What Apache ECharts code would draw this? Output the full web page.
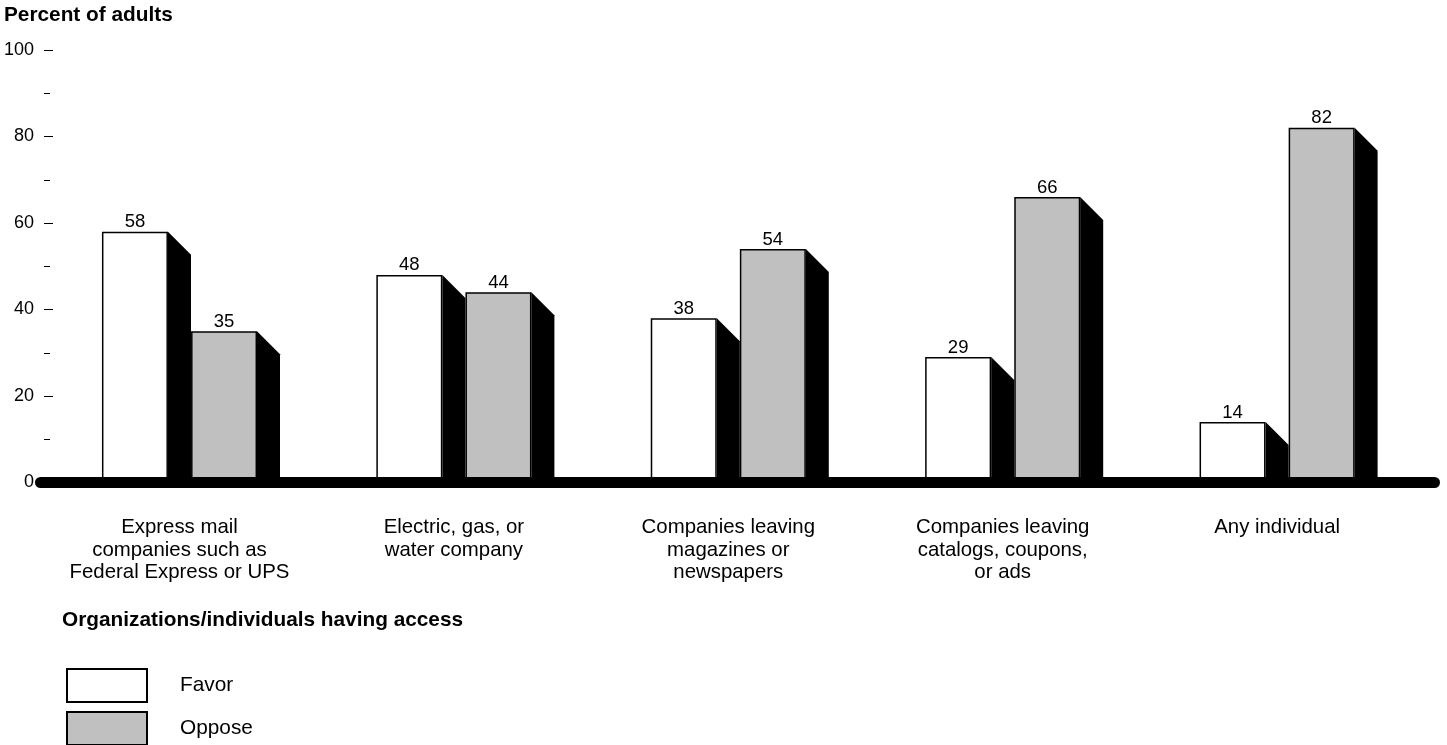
<!DOCTYPE html>
<html><head><meta charset="utf-8">
<script src="https://cdn.jsdelivr.net/npm/echarts@6/dist/echarts.min.js"></script>
<style>html,body{margin:0;padding:0;background:#fff}#c{width:1447px;height:745px}</style>
</head><body><div id="c"></div>
<script>
const categories = [
  'Express mail\ncompanies such as\nFederal Express or UPS',
  'Electric, gas, or\nwater company',
  'Companies leaving\nmagazines or\nnewspapers',
  'Companies leaving\ncatalogs, coupons,\nor ads',
  'Any individual'
];
const favorValues = [58, 48, 38, 29, 14];
const opposeValues = [35, 44, 54, 66, 82];
const seriesNames = ['Favor', 'Oppose'];
const yMin = 0, yMax = 100, yStep = 20;

const BAR_W = 66, GAP = 23, DEPTH = 23;
const FONT = '"Liberation Sans", Arial, Helvetica, sans-serif';
const legendText = { fontSize: 20.8, color: '#000', fontFamily: FONT, padding: [0, 0, 0, 28] };

function sideRenderer(isFavor) {
  return function (params, api) {
    const i = api.value(0), v = api.value(1);
    const top = api.coord([i, v]);
    const base = api.coord([i, 0]);
    const cx = top[0];
    const right = isFavor ? cx - GAP / 2 : cx + GAP / 2 + BAR_W;
    return {
      type: 'polygon',
      shape: { points: [[right, top[1]], [right + DEPTH, top[1] + DEPTH], [right + DEPTH, base[1]], [right, base[1]]] },
      style: { fill: '#000' }
    };
  };
}

const chart = echarts.init(document.getElementById('c'), null, { renderer: 'canvas' });
chart.setOption({
  backgroundColor: '#fff',
  animation: false,
  title: [
    { text: 'Percent of adults', left: 4, top: 5, padding: 0,
      textStyle: { fontSize: 20.8, fontWeight: 'bold', color: '#000', fontFamily: FONT } },
    { text: 'Organizations/individuals having access', left: 62, top: 610, padding: 0,
      textStyle: { fontSize: 20.8, fontWeight: 'bold', color: '#000', fontFamily: FONT } }
  ],
  legend: [
    { data: [seriesNames[0]], orient: 'vertical', left: 66, top: 668, padding: 0,
      itemWidth: 80, itemHeight: 33, icon: 'rect', selectedMode: false, textStyle: legendText },
    { data: [seriesNames[1]], orient: 'vertical', left: 66, top: 711, padding: 0,
      itemWidth: 80, itemHeight: 33, icon: 'rect', selectedMode: false, textStyle: legendText }
  ],
  grid: [
    { left: 42.3, right: 32.7, top: 50, bottom: 262.5 },
    { left: 40.5, right: 12.5, top: 50, bottom: 262.5 }
  ],
  xAxis: [
    { type: 'category', gridIndex: 0, data: categories,
      axisLine: { show: false }, axisTick: { show: false },
      axisLabel: { interval: 0, color: '#000', fontSize: 20.4, lineHeight: 22.5, fontFamily: FONT, margin: 34 } },
    { type: 'value', gridIndex: 1, min: 0, max: 1, z: 5,
      axisLine: { show: true, onZero: false, lineStyle: { color: '#000', width: 11, cap: 'round' } },
      axisTick: { show: false }, axisLabel: { show: false }, splitLine: { show: false } }
  ],
  yAxis: [
    { type: 'value', gridIndex: 0, min: yMin, max: yMax, interval: yStep, offset: -1.7,
      axisLine: { show: false },
      axisTick: { show: true, inside: true, length: 9, lineStyle: { color: '#000', width: 1 } },
      minorTick: { show: true, splitNumber: 2, length: 6, lineStyle: { color: '#000', width: 1 } },
      splitLine: { show: false }, minorSplitLine: { show: false },
      axisLabel: { color: '#000', fontSize: 18, fontFamily: FONT, margin: 10 } },
    { type: 'value', gridIndex: 1, min: 0, max: 1, show: false }
  ],
  series: [
    { type: 'custom', name: 'favorSide', xAxisIndex: 0, yAxisIndex: 0, z: 1,
      renderItem: sideRenderer(true), encode: { x: 0, y: 1 },
      data: favorValues.map((v, i) => [i, v]) },
    { type: 'custom', name: 'opposeSide', xAxisIndex: 0, yAxisIndex: 0, z: 1,
      renderItem: sideRenderer(false), encode: { x: 0, y: 1 },
      data: opposeValues.map((v, i) => [i, v]) },
    { type: 'bar', name: seriesNames[0], data: favorValues, barWidth: BAR_W, barGap: '35%', z: 2,
      itemStyle: { color: '#ffffff', borderColor: '#000', borderWidth: 1.5 },
      label: { show: true, position: 'top', distance: 0, color: '#000', fontSize: 18.5, fontFamily: FONT } },
    { type: 'bar', name: seriesNames[1], data: opposeValues, barWidth: BAR_W, barGap: '35%', z: 2,
      itemStyle: { color: '#c0c0c0', borderColor: '#000', borderWidth: 1.5 },
      label: { show: true, position: 'top', distance: 0, color: '#000', fontSize: 18.5, fontFamily: FONT } }
  ]
});
</script></body></html>
